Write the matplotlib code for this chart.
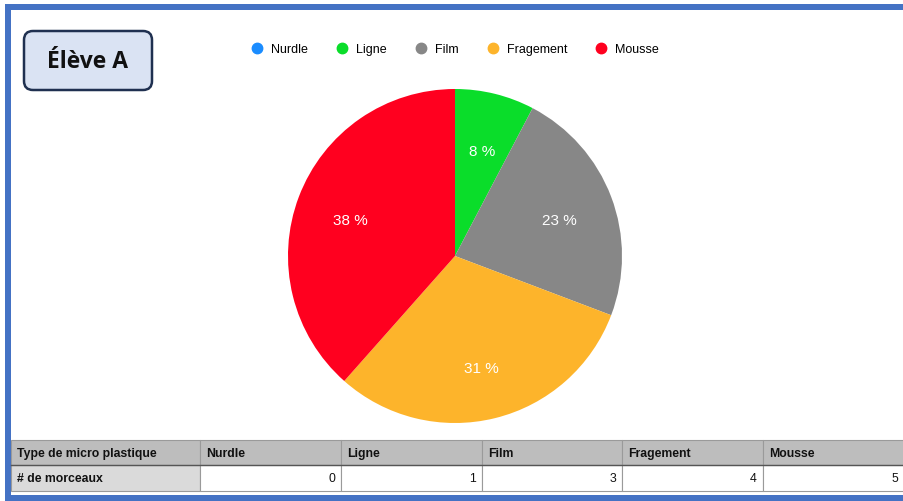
import matplotlib
matplotlib.use("Agg")
import matplotlib.pyplot as plt
from matplotlib.patches import Rectangle, FancyBboxPatch
from matplotlib.lines import Line2D

plt.rcParams["font.family"] = ["Liberation Sans", "DejaVu Sans"]

# données
types = ["Nurdle", "Ligne", "Film", "Fragement", "Mousse"]
morceaux = [0, 1, 3, 4, 5]
couleurs = ["#1a8cff", "#0add2a", "#878787", "#fdb42b", "#ff001f"]
titre = "Élève A"
row_head = ["Type de micro plastique", "# de morceaux"]

W, H = 904, 502
fig = plt.figure(figsize=(W / 100, H / 100), dpi=100)

# calque en pixels (cadre, titre, tableau)
bg = fig.add_axes([0, 0, 1, 1])
bg.set_xlim(0, W); bg.set_ylim(H, 0); bg.axis("off")
blue = "#4472c4"
bg.add_patch(Rectangle((5, 5), W, 6, color=blue, lw=0))
bg.add_patch(Rectangle((5, 5), 6, H, color=blue, lw=0))
bg.add_patch(Rectangle((5, 496), W, 6, color=blue, lw=0))

bg.add_patch(FancyBboxPatch((24, 32), 128, 59, boxstyle="round,pad=0,rounding_size=9",
                            fc="#dae3f3", ec="#1f3050", lw=1.8))
bg.text(88, 62, titre, ha="center", va="center", fontsize=16.5, fontweight="bold",
        family=["Open Sans", "DejaVu Sans"], color="#111111")

# tableau
col_x = [11, 200, 341, 482, 622, 763, 904]
row_y = [441, 466, 492]
for r in range(2):
    for c in range(6):
        x0, x1 = col_x[c], col_x[c + 1]
        y0, y1 = row_y[r], row_y[r + 1]
        if r == 0:
            fc = "#bdbdbd"
        elif c == 0:
            fc = "#dadada"
        else:
            fc = "white"
        bg.add_patch(Rectangle((x0, y0), x1 - x0, y1 - y0, fc=fc, ec="#9a9a9a", lw=0.8))
        ym = (y0 + y1) / 2 + 0.5
        if c == 0:
            bg.text(x0 + 6, ym, row_head[r], ha="left", va="center", fontsize=8.8,
                    fontweight="bold", color="#111111")
        elif r == 0:
            bg.text(x0 + 6, ym, types[c - 1], ha="left", va="center", fontsize=8.8,
                    fontweight="bold", color="#111111")
        else:
            bg.text(x1 - 6, ym, str(morceaux[c - 1]), ha="right", va="center",
                    fontsize=8.8, color="#111111")
bg.plot([11, 904], [466, 466], color="#555555", lw=1.0)

# camembert
cx, cy, R = 455, 257, 167
ax = fig.add_axes([(cx - R) / W, 1 - (cy + R) / H, 2 * R / W, 2 * R / H])
_, _, autotexts = ax.pie(morceaux, colors=couleurs, startangle=90, counterclock=False,
                         autopct=lambda p: f"{p:.0f} %" if p > 0.5 else "", pctdistance=0.67,
                         textprops=dict(color="white", fontsize=11),
                         wedgeprops=dict(linewidth=0))
for t in autotexts:
    t.set_y(t.get_position()[1] - 0.022)
ax.set_xlim(-1, 1); ax.set_ylim(-1, 1); ax.set_aspect("equal")
ax.axis("off")

handles = [Line2D([], [], marker="o", ls="", markersize=7.5, markerfacecolor=c,
                  markeredgecolor=c) for c in couleurs]
fig.legend(handles, types, loc="center", bbox_to_anchor=(455 / W, 1 - 50 / H), ncol=5,
           frameon=False, fontsize=9, handletextpad=0.6, columnspacing=2.25,
           handlelength=1.0)

fig.savefig("out.png", dpi=100)
